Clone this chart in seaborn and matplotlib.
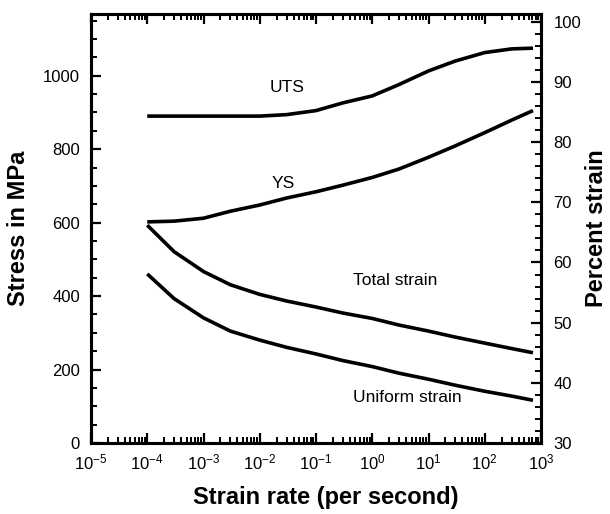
import matplotlib
matplotlib.use("Agg")
import matplotlib.pyplot as plt
import numpy as np
import pandas as pd
import seaborn as sns
from matplotlib.ticker import MultipleLocator, LogLocator, FixedLocator, FuncFormatter, NullFormatter

# ---- data ----
strain_rate = [1e-4, 3e-4, 1e-3, 3e-3, 1e-2, 3e-2, 1e-1, 3e-1, 1, 3, 10, 30, 100, 300, 720]
uts_mpa = [890, 890, 890, 890, 890, 894, 905, 926, 945, 976, 1013, 1040, 1063, 1073, 1075]
ys_mpa = [602, 604, 612, 631, 648, 667, 684, 702, 723, 746, 778, 809, 845, 879, 905]
total_strain_pct = [66.2, 61.8, 58.5, 56.3, 54.7, 53.6, 52.6, 51.6, 50.7, 49.6, 48.6, 47.6, 46.6, 45.7, 45.0]
uniform_strain_pct = [58.1, 54.0, 50.8, 48.6, 47.1, 45.9, 44.8, 43.7, 42.7, 41.6, 40.6, 39.6, 38.6, 37.8, 37.1]

x_decades = [-5, -4, -3, -2, -1, 0, 1, 2, 3]
stress_ticks = [0, 200, 400, 600, 800, 1000]
pct_ticks = [30, 40, 50, 60, 70, 80, 90, 100]

sns.set_theme(style="ticks")
plt.rcParams["font.family"] = ["Liberation Sans", "DejaVu Sans"]
plt.rcParams["mathtext.default"] = "regular"

fig = plt.figure(figsize=(6.1, 5.14), dpi=100)
ax = fig.add_axes([91 / 610, 1 - 443 / 514, 450 / 610, 429 / 514])
ax.set_xscale("log")
ax2 = ax.twinx()

df_stress = pd.DataFrame({"rate": strain_rate, "UTS": uts_mpa, "YS": ys_mpa})
df_pct = pd.DataFrame({"rate": strain_rate, "Total": total_strain_pct, "Uniform": uniform_strain_pct})

lw = 2.6
sns.lineplot(data=df_stress, x="rate", y="UTS", ax=ax, color="black", lw=lw)
sns.lineplot(data=df_stress, x="rate", y="YS", ax=ax, color="black", lw=lw)
sns.lineplot(data=df_pct, x="rate", y="Total", ax=ax2, color="black", lw=lw)
sns.lineplot(data=df_pct, x="rate", y="Uniform", ax=ax2, color="black", lw=lw)
for a in (ax, ax2):
    for ln in a.lines:
        ln.set_solid_joinstyle("round")
        ln.set_solid_capstyle("butt")

ax.set_xlim(1e-5, 1e3)
ax.set_ylim(0, 1168)
ax2.set_ylim(30, 101.3)

ax.xaxis.set_major_locator(FixedLocator([10.0 ** k for k in x_decades]))
ax.xaxis.set_major_formatter(FuncFormatter(lambda v, p: "$10^{%d}$" % int(round(np.log10(v)))))
ax.xaxis.set_minor_locator(LogLocator(base=10, subs=np.arange(2, 10), numticks=100))
ax.xaxis.set_minor_formatter(NullFormatter())

ax.yaxis.set_major_locator(FixedLocator(stress_ticks))
ax.yaxis.set_minor_locator(MultipleLocator(50))
ax2.yaxis.set_major_locator(FixedLocator(pct_ticks))
ax2.yaxis.set_minor_locator(MultipleLocator(2))

ax.tick_params(axis="x", which="both", direction="in", top=True, bottom=True, colors="black", labelsize=12, pad=7)
ax.tick_params(axis="y", which="both", direction="in", left=True, right=False, colors="black", labelsize=12, pad=8)
ax2.tick_params(axis="y", which="both", direction="in", right=True, left=False, colors="black", labelsize=12, pad=9)
for a in (ax, ax2):
    a.tick_params(which="major", length=7, width=1.6)
    a.tick_params(which="minor", length=4, width=1.4)
    for s in a.spines.values():
        s.set_color("black")
        s.set_linewidth(2.2)

ax.set_xlabel("Strain rate (per second)", fontsize=17, fontweight="bold", color="black")
ax.xaxis.label.set_va("center")
ax.xaxis.set_label_coords(0.522, -0.128)
ax.set_ylabel("Stress in MPa", fontsize=17, fontweight="bold", color="black")
ax2.set_ylabel("Percent strain", fontsize=17, fontweight="bold", color="black")
for lab in (ax.yaxis.label, ax2.yaxis.label):
    lab.set_rotation(90)
    lab.set_rotation_mode("anchor")
    lab.set_ha("center")
    lab.set_va("center")
ax.yaxis.set_label_coords(-0.162, 0.5)
ax2.yaxis.set_label_coords(1.124, 0.5)

txt = dict(fontsize=12.5, ha="center", va="center", color="black")
ax.text(0.436, 0.828, "UTS", transform=ax.transAxes, **txt)
ax.text(0.427, 0.606, "YS", transform=ax.transAxes, **txt)
ax.text(0.676, 0.378, "Total strain", transform=ax.transAxes, **txt)
ax.text(0.702, 0.107, "Uniform strain", transform=ax.transAxes, **txt)

fig.savefig("out.png", dpi=100)
